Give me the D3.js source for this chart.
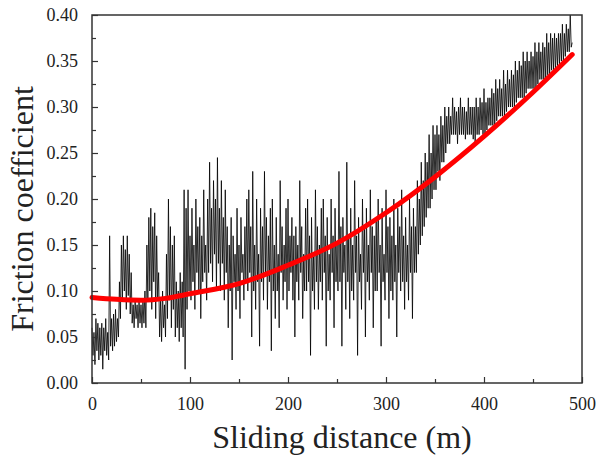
<!DOCTYPE html>
<html>
<head>
<meta charset="utf-8">
<script src="https://cdn.jsdelivr.net/npm/d3@7/dist/d3.min.js"></script>
<style>
  body { margin: 0; background: #fff; }
  text { font-family: "Liberation Serif", "Times New Roman", serif; fill: #222; }
</style>
</head>
<body>
<script>
// friction trace, one reading every metre from 0 m to 490 m (10 per row)
var traceStart = 0;
var traceStep = 1;
var trace = [
  0.06, 0.03, 0.055, 0.02, 0.07, 0.035, 0.065, 0.025, 0.06, 0.03,
  0.065, 0.015, 0.06, 0.035, 0.07, 0.03, 0.055, 0.025, 0.16, 0.04,
  0.07, 0.035, 0.075, 0.04, 0.08, 0.045, 0.07, 0.05, 0.11, 0.07,
  0.15, 0.09, 0.16, 0.1, 0.145, 0.08, 0.16, 0.095, 0.14, 0.075,
  0.12, 0.065, 0.085, 0.06, 0.09, 0.07, 0.085, 0.06, 0.09, 0.065,
  0.085, 0.06, 0.09, 0.065, 0.1, 0.06, 0.15, 0.09, 0.18, 0.1,
  0.19, 0.08, 0.17, 0.11, 0.185, 0.07, 0.16, 0.09, 0.12, 0.05,
  0.09, 0.045, 0.1, 0.06, 0.085, 0.05, 0.14, 0.07, 0.2, 0.09,
  0.17, 0.06, 0.15, 0.08, 0.16, 0.05, 0.11, 0.06, 0.1, 0.045,
  0.12, 0.06, 0.11, 0.05, 0.21, 0.015, 0.19, 0.08, 0.21, 0.1,
  0.16, 0.09, 0.19, 0.11, 0.15, 0.08, 0.2, 0.12, 0.17, 0.1,
  0.18, 0.07, 0.16, 0.11, 0.21, 0.12, 0.15, 0.09, 0.2, 0.12,
  0.24, 0.13, 0.19, 0.11, 0.22, 0.14, 0.2, 0.1, 0.245, 0.13,
  0.19, 0.1, 0.22, 0.13, 0.18, 0.09, 0.21, 0.12, 0.17, 0.06,
  0.15, 0.1, 0.18, 0.025, 0.16, 0.11, 0.14, 0.08, 0.19, 0.1,
  0.15, 0.07, 0.18, 0.12, 0.14, 0.09, 0.17, 0.11, 0.2, 0.1,
  0.21, 0.12, 0.17, 0.05, 0.23, 0.1, 0.15, 0.08, 0.2, 0.11,
  0.14, 0.04, 0.19, 0.11, 0.17, 0.09, 0.23, 0.12, 0.18, 0.08,
  0.16, 0.11, 0.19, 0.035, 0.2, 0.1, 0.15, 0.07, 0.18, 0.1,
  0.14, 0.06, 0.22, 0.12, 0.17, 0.09, 0.15, 0.11, 0.19, 0.08,
  0.2, 0.1, 0.16, 0.12, 0.18, 0.09, 0.16, 0.05, 0.17, 0.11,
  0.15, 0.09, 0.22, 0.12, 0.17, 0.07, 0.14, 0.1, 0.19, 0.1,
  0.2, 0.11, 0.16, 0.03, 0.18, 0.1, 0.14, 0.08, 0.21, 0.11,
  0.17, 0.08, 0.15, 0.11, 0.19, 0.09, 0.2, 0.12, 0.16, 0.04,
  0.18, 0.1, 0.14, 0.09, 0.2, 0.12, 0.16, 0.06, 0.19, 0.11,
  0.15, 0.1, 0.23, 0.11, 0.17, 0.04, 0.18, 0.12, 0.15, 0.08,
  0.24, 0.11, 0.16, 0.07, 0.19, 0.1, 0.15, 0.09, 0.22, 0.12,
  0.16, 0.03, 0.18, 0.11, 0.14, 0.08, 0.2, 0.12, 0.17, 0.05,
  0.19, 0.11, 0.15, 0.09, 0.21, 0.12, 0.17, 0.06, 0.16, 0.1,
  0.18, 0.1, 0.2, 0.12, 0.15, 0.04, 0.19, 0.11, 0.14, 0.09,
  0.21, 0.12, 0.17, 0.07, 0.18, 0.1, 0.16, 0.09, 0.2, 0.11,
  0.15, 0.05, 0.19, 0.12, 0.17, 0.1, 0.21, 0.11, 0.16, 0.08,
  0.18, 0.11, 0.15, 0.09, 0.2, 0.12, 0.17, 0.07, 0.19, 0.12,
  0.17, 0.12, 0.22, 0.14, 0.2, 0.15, 0.24, 0.16, 0.22, 0.17,
  0.25, 0.18, 0.24, 0.19, 0.27, 0.19, 0.25, 0.2, 0.28, 0.21,
  0.27, 0.21, 0.28, 0.23, 0.27, 0.22, 0.29, 0.24, 0.28, 0.24,
  0.3, 0.25, 0.29, 0.26, 0.3, 0.26, 0.29, 0.27, 0.31, 0.27,
  0.3, 0.27, 0.295, 0.26, 0.3, 0.27, 0.31, 0.27, 0.3, 0.27,
  0.3, 0.265, 0.295, 0.27, 0.31, 0.27, 0.3, 0.27, 0.3, 0.265,
  0.3, 0.26, 0.31, 0.27, 0.3, 0.27, 0.31, 0.275, 0.305, 0.27,
  0.32, 0.27, 0.305, 0.275, 0.31, 0.28, 0.31, 0.28, 0.32, 0.28,
  0.315, 0.28, 0.33, 0.285, 0.32, 0.29, 0.33, 0.29, 0.32, 0.29,
  0.34, 0.29, 0.325, 0.295, 0.34, 0.3, 0.33, 0.3, 0.34, 0.3,
  0.335, 0.3, 0.35, 0.305, 0.34, 0.31, 0.35, 0.31, 0.345, 0.31,
  0.36, 0.31, 0.35, 0.315, 0.36, 0.32, 0.35, 0.32, 0.36, 0.32,
  0.355, 0.32, 0.37, 0.32, 0.36, 0.325, 0.37, 0.33, 0.36, 0.33,
  0.37, 0.33, 0.365, 0.33, 0.38, 0.335, 0.37, 0.335, 0.38, 0.34,
  0.375, 0.34, 0.38, 0.34, 0.375, 0.345, 0.38, 0.345, 0.38, 0.35,
  0.39, 0.35, 0.38, 0.355, 0.39, 0.36, 0.385, 0.36, 0.4, 0.365,
  0.37
];

var fitDist = [0, 25, 50, 75, 100, 150, 200, 250, 300, 350, 400, 450, 490];
var fitVal = [0.093, 0.091, 0.090, 0.092, 0.097, 0.108, 0.128, 0.152, 0.185, 0.224, 0.268, 0.316, 0.357];

var xTicks = [0, 100, 200, 300, 400, 500];
var yTicks = [0, 0.05, 0.10, 0.15, 0.20, 0.25, 0.30, 0.35, 0.40];

var width = 598, height = 458;
var margin = {top: 15, right: 16, bottom: 75, left: 92};

var svg = d3.select('body').append('svg')
  .attr('width', width)
  .attr('height', height);

var x = d3.scaleLinear().domain([0, 500]).range([margin.left, width - margin.right]);
var y = d3.scaleLinear().domain([0, 0.4]).range([height - margin.bottom, margin.top]);

var points = trace.map(function(v, i) { return [traceStart + i * traceStep, v]; });

var line = d3.line()
  .x(function(d) { return x(d[0]); })
  .y(function(d) { return y(d[1]); });

svg.append('path')
  .attr('d', line(points))
  .attr('fill', 'none')
  .attr('stroke', '#000')
  .attr('stroke-opacity', 0.9)
  .attr('stroke-width', 0.9);

var fit = fitDist.map(function(d, i) { return [d, fitVal[i]]; });
svg.append('path')
  .attr('d', line.curve(d3.curveMonotoneX)(fit))
  .attr('fill', 'none')
  .attr('stroke', '#ff0000')
  .attr('stroke-width', 5)
  .attr('stroke-linecap', 'round');

// frame
svg.append('rect')
  .attr('x', x(0)).attr('y', y(0.4))
  .attr('width', x(500) - x(0)).attr('height', y(0) - y(0.4))
  .attr('fill', 'none')
  .attr('stroke', '#333')
  .attr('stroke-width', 1.5);

// inward ticks
var xAxis = d3.axisBottom(x).tickValues(xTicks).tickSizeInner(-6).tickSizeOuter(0).tickPadding(14);
var gx = svg.append('g').attr('transform', 'translate(0,' + y(0) + ')').call(xAxis);
var xMinor = d3.axisBottom(x).tickValues([50, 150, 250, 350, 450]).tickSizeInner(-4).tickSizeOuter(0).tickFormat('');
var gxm = svg.append('g').attr('transform', 'translate(0,' + y(0) + ')').call(xMinor);

var yAxis = d3.axisLeft(y).tickValues(yTicks).tickSizeInner(-6).tickSizeOuter(0).tickPadding(14)
  .tickFormat(d3.format('.2f'));
var gy = svg.append('g').attr('transform', 'translate(' + x(0) + ',0)').call(yAxis);
var yMinor = d3.axisLeft(y).tickValues([0.025, 0.075, 0.125, 0.175, 0.225, 0.275, 0.325, 0.375])
  .tickSizeInner(-4).tickSizeOuter(0).tickFormat('');
var gym = svg.append('g').attr('transform', 'translate(' + x(0) + ',0)').call(yMinor);

[gx, gxm, gy, gym].forEach(function(g) {
  g.attr('font-family', '"Liberation Serif", serif').attr('font-size', 18);
  g.select('.domain').remove();
  g.selectAll('line').attr('stroke', '#333').attr('stroke-width', 1.2);
  g.selectAll('text').attr('fill', '#222');
});

svg.append('text')
  .attr('x', x(250) + 5)
  .attr('y', 448)
  .attr('text-anchor', 'middle')
  .attr('font-size', 32)
  .text('Sliding distance (m)');

svg.append('text')
  .attr('transform', 'translate(33,' + 209 + ') rotate(-90)')
  .attr('text-anchor', 'middle')
  .attr('font-size', 32)
  .text('Friction coefficient');
</script>
</body>
</html>
